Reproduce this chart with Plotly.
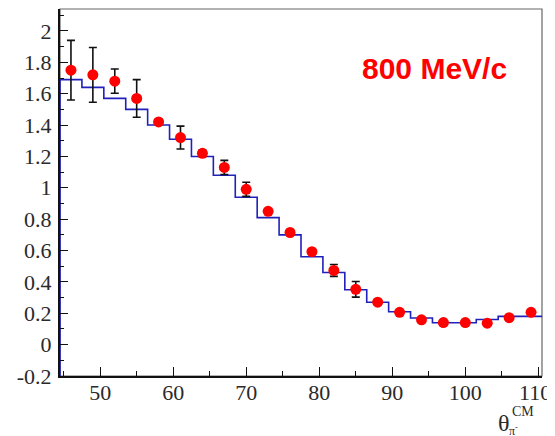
import plotly.graph_objects as go

# Data
bin_centers = [46, 49, 52, 55, 58, 61, 64, 67, 70, 73, 76, 79, 82, 85, 88, 91, 94, 97, 100, 103, 106, 109]
hist_values = [1.69, 1.64, 1.57, 1.50, 1.40, 1.31, 1.20, 1.08, 0.94, 0.81, 0.70, 0.56, 0.46, 0.35, 0.27, 0.21, 0.17, 0.14, 0.14, 0.16, 0.18, 0.18]
data_values = [1.75, 1.72, 1.68, 1.57, 1.42, 1.32, 1.22, 1.13, 0.99, 0.85, 0.715, 0.593, 0.473, 0.353, 0.271, 0.206, 0.158, 0.141, 0.141, 0.137, 0.172, 0.206]
data_errors = [0.19, 0.175, 0.077, 0.12, 0.015, 0.073, 0.02, 0.045, 0.045, 0.015, 0.015, 0.012, 0.038, 0.05, 0.012, 0.012, 0.01, 0.01, 0.01, 0.01, 0.01, 0.01]
bin_width = 3
y_ticks = [-0.2, 0, 0.2, 0.4, 0.6, 0.8, 1.0, 1.2, 1.4, 1.6, 1.8, 2.0]
y_tick_labels = ["-0.2", "0", "0.2", "0.4", "0.6", "0.8", "1", "1.2", "1.4", "1.6", "1.8", "2"]
x_ticks = [50, 60, 70, 80, 90, 100, 110]
x_tick_labels = ["50", "60", "70", "80", "90", "100", "110"]
label_text = "800 MeV/c"

x_lo = bin_centers[0] - bin_width / 2
x_hi = bin_centers[-1] + bin_width / 2
y_lo, y_hi = -0.2, 2.14

# Histogram outline (steps), starting from the bottom of the frame
hx = [x_lo, x_lo]
hy = [y_lo, hist_values[0]]
for c, v in zip(bin_centers, hist_values):
    hx += [c - bin_width / 2, c + bin_width / 2]
    hy += [v, v]

fig = go.Figure()
fig.add_trace(go.Scatter(x=hx, y=hy, mode="lines",
                         line=dict(color="#2020bb", width=1.6),
                         showlegend=False, hoverinfo="skip"))
fig.add_trace(go.Scatter(x=bin_centers, y=data_values, mode="markers",
                         marker=dict(color="#ff0000", size=11),
                         error_y=dict(type="data", array=data_errors, color="#111111",
                                      thickness=1.6, width=4),
                         showlegend=False))

tickfont = dict(family="Liberation Serif", size=22, color="#2a2a2a")
# the last label sits at the window edge: draw it as an annotation nudged inward
shown_x_labels = x_tick_labels[:-1] + [""]
fig.update_xaxes(range=[x_lo, x_hi], tickmode="array", tickvals=x_ticks, ticktext=shown_x_labels,
                 ticks="inside", ticklen=9, tickwidth=1.2, tickcolor="#111111",
                 minor=dict(ticks="inside", ticklen=5, dtick=5, tick0=0, tickcolor="#111111", tickwidth=1.2),
                 showline=True, linecolor="#111111", linewidth=2, showgrid=False, zeroline=False,
                 tickfont=tickfont, ticklabelstandoff=-4)
fig.update_yaxes(range=[y_lo, y_hi], tickmode="array", tickvals=y_ticks, ticktext=y_tick_labels,
                 ticks="inside", ticklen=8, tickwidth=1.2, tickcolor="#111111",
                 minor=dict(ticks="inside", ticklen=4, dtick=0.1, tick0=0, tickcolor="#111111", tickwidth=1.2),
                 showline=True, linecolor="#111111", linewidth=2, showgrid=False, zeroline=False,
                 tickfont=tickfont, ticklabelstandoff=2)
fig.add_annotation(text=x_tick_labels[-1], xref="paper", yref="paper", x=0.9855, y=-0.0436,
                   showarrow=False, xanchor="center", yanchor="middle", font=tickfont)

# Thin frame on top/right
fig.add_shape(type="rect", xref="paper", yref="paper", x0=0, y0=0, x1=1, y1=1,
              line=dict(color="#666666", width=1.2), layer="below")

fig.add_annotation(text="<b>" + label_text + "</b>", xref="paper", yref="paper",
                   x=0.777, y=0.839, showarrow=False, xanchor="center", yanchor="middle",
                   font=dict(family="Liberation Sans", size=30, color="#ff0000"))
# axis title θ^CM_π-
fig.add_annotation(text="θ", xref="paper", yref="paper", x=0.921, y=-0.128,
                   showarrow=False, xanchor="center", yanchor="middle",
                   font=dict(family="Liberation Serif", size=24, color="#2a2a2a"))
fig.add_annotation(text="CM", xref="paper", yref="paper", x=0.961, y=-0.098,
                   showarrow=False, xanchor="center", yanchor="middle",
                   font=dict(family="Liberation Serif", size=14, color="#2a2a2a"))
fig.add_annotation(text="π<sup>-</sup>", xref="paper", yref="paper", x=0.940, y=-0.148,
                   showarrow=False, xanchor="center", yanchor="middle",
                   font=dict(family="Liberation Serif", size=12, color="#2a2a2a"))

# the page body has an 8px margin, so the figure is drawn offset by (8, 8);
# size it so it ends at the window edge
fig.update_layout(width=547, height=428, margin=dict(l=52, r=13, t=1, b=60),
                  plot_bgcolor="white", paper_bgcolor="white")
fig.write_html("out.html", config={"displayModeBar": False})
